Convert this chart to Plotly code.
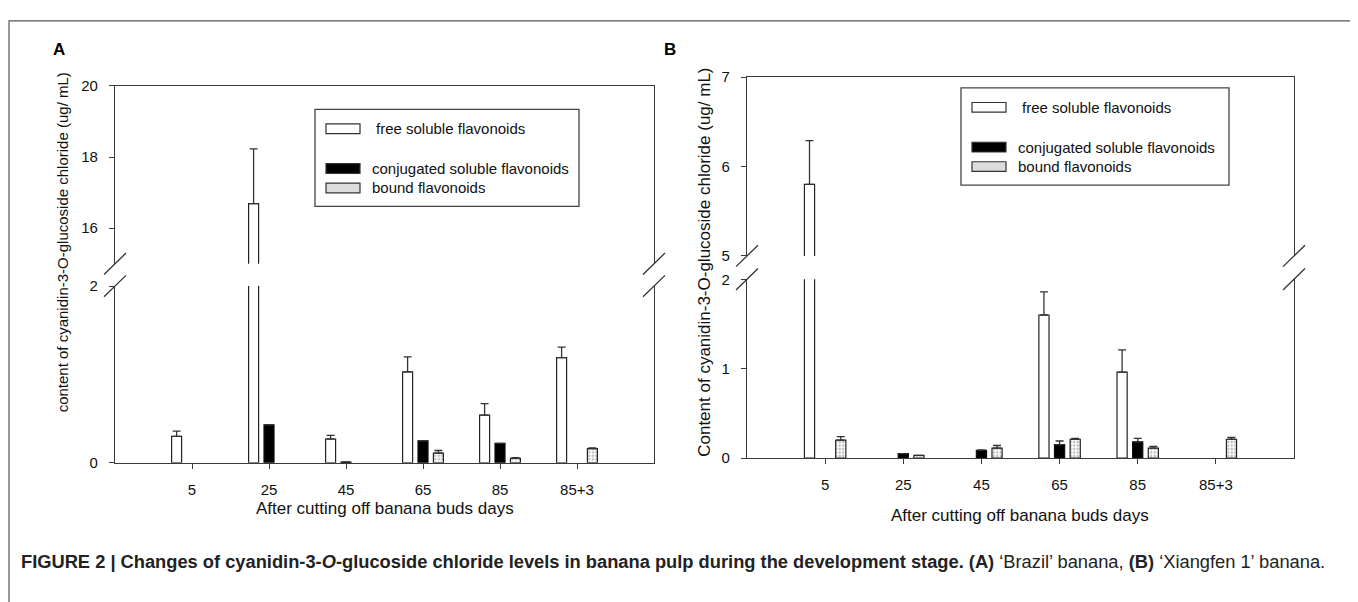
import plotly.graph_objects as go

# ---------------- data ----------------
categories = ["5", "25", "45", "65", "85", "85+3"]
series_names = ["free soluble flavonoids", "conjugated soluble flavonoids", "bound flavonoids"]

# Panel A  ('Brazil' banana)
free_A = [0.30, 16.69, 0.27, 1.03, 0.54, 1.19]
free_A_err = [0.06, 1.54, 0.04, 0.17, 0.13, 0.12]
conj_A = [None, 0.43, 0.01, 0.25, 0.22, None]
conj_A_err = [0, 0.0, 0.0, 0.0, 0.0, 0]
bound_A = [None, None, None, 0.11, 0.05, 0.16]
bound_A_err = [0, 0, 0, 0.03, 0.01, 0.01]

# Panel B  ('Xiangfen 1' banana)
free_B = [5.80, None, None, 1.60, 0.96, None]
free_B_err = [0.49, 0, 0, 0.26, 0.25, 0]
conj_B = [None, 0.05, 0.085, 0.15, 0.18, None]
conj_B_err = [0, 0.0, 0.005, 0.04, 0.04, 0]
bound_B = [0.20, 0.03, 0.11, 0.21, 0.11, 0.21]
bound_B_err = [0.04, 0.0, 0.03, 0.01, 0.02, 0.02]

yticks_A_low = [0, 2]
yticks_A_up = [16, 18, 20]
yticks_B_low = [0, 1, 2]
yticks_B_up = [5, 6, 7]

# ---------------- layout helpers ----------------
OFF = 8                      # page body margin of the html page
W, H = 1358 - OFF, 602 - OFF
FONT = "Liberation Sans, Arial, sans-serif"
AX = "#3a3a3a"


def px(x):
    return (x - OFF) / W


def py(y):
    return 1 - (y - OFF) / H


fig = go.Figure()

styles = [
    dict(color="white", line=dict(color="#222", width=1.2)),
    dict(color="black", line=dict(color="#111", width=1.2)),
    dict(color="white", line=dict(color="#222", width=1.2),
         pattern=dict(shape=".", fgcolor="#777", bgcolor="white", size=3.5, solidity=0.4)),
]


def add_panel(vals, errs, xa, ya):
    for i, (v, e) in enumerate(zip(vals, errs)):
        fig.add_trace(go.Bar(
            x=categories, y=v, name=series_names[i], offsetgroup=str(i),
            marker=styles[i], xaxis=xa, yaxis=ya, showlegend=False,
            error_y=dict(type="data", array=e, arrayminus=[0] * len(e), symmetric=False,
                         color="#333", thickness=1.3, width=4),
        ))


vals_A = [free_A, conj_A, bound_A]
errs_A = [free_A_err, conj_A_err, bound_A_err]
vals_B = [free_B, conj_B, bound_B]
errs_B = [free_B_err, conj_B_err, bound_B_err]

add_panel(vals_A, errs_A, "x", "y")
add_panel(vals_A, errs_A, "x2", "y2")
add_panel(vals_B, errs_B, "x3", "y3")
add_panel(vals_B, errs_B, "x4", "y4")

tickfont = dict(family=FONT, size=15, color="#111")

common_x = dict(type="category", range=[-1, 6], showgrid=False, zeroline=False,
                linecolor=AX, linewidth=1.3, fixedrange=True)
common_y = dict(showgrid=False, zeroline=False, linecolor=AX, linewidth=1.3,
                showline=True, mirror=True, ticks="outside", ticklen=5, tickwidth=1.2,
                tickcolor=AX, tickfont=tickfont, ticklabelstandoff=8)

A_x = [px(115), px(654)]
B_x = [px(747), px(1294)]

fig.update_layout(
    width=W, height=H, margin=dict(l=0, r=0, t=0, b=0),
    paper_bgcolor="white", plot_bgcolor="white",
    barmode="group", bargap=0.4, bargroupgap=0.35, showlegend=False,
    font=dict(family=FONT, color="#111"),
    xaxis=dict(**common_x, domain=A_x, anchor="y", showline=True, ticks="outside",
               ticklen=5, tickwidth=1.2, tickcolor=AX, tickfont=tickfont, ticklabelstandoff=8),
    yaxis=dict(**common_y, domain=[py(467), py(285)], range=[0, 2], tickvals=yticks_A_low,
               anchor="x"),
    xaxis2=dict(**common_x, domain=A_x, anchor="y2", matches="x", side="top", showline=True,
                showticklabels=False, ticks=""),
    yaxis2=dict(**common_y, domain=[py(262), py(79)], range=[15, 20], tickvals=yticks_A_up,
                anchor="x2"),
    xaxis3=dict(**common_x, domain=B_x, anchor="y3", showline=True, ticks="outside",
                ticklen=5, tickwidth=1.2, tickcolor=AX, tickfont=tickfont, ticklabelstandoff=8),
    yaxis3=dict(**common_y, domain=[py(462), py(278)], range=[0, 2], tickvals=yticks_B_low,
                anchor="x3"),
    xaxis4=dict(**common_x, domain=B_x, anchor="y4", matches="x3", side="top", showline=True,
                showticklabels=False, ticks=""),
    yaxis4=dict(**common_y, domain=[py(254), py(70)], range=[5, 7], tickvals=yticks_B_up,
                anchor="x4"),
)

shapes = []
# outer border
shapes.append(dict(type="rect", xref="paper", yref="paper", x0=px(9), y0=py(640), x1=px(1354),
                   y1=py(12), line=dict(color="#555", width=1.2), fillcolor="rgba(0,0,0,0)"))
# axis break marks
for xb, ys in [(115, (262, 285)), (654, (262, 285)), (747, (254, 278)), (1294, (254, 278))]:
    for yb in ys:
        shapes.append(dict(type="line", xref="paper", yref="paper",
                           x0=px(xb - 11), y0=py(yb + 11), x1=px(xb + 11), y1=py(yb - 11),
                           line=dict(color="#333", width=1.3)))

annotations = []


def ann(x, y, text, size, angle=0, xanchor="center", color="#111"):
    annotations.append(dict(xref="paper", yref="paper", x=px(x), y=py(y), text=text,
                            xanchor=xanchor, yanchor="middle", textangle=angle,
                            showarrow=False, font=dict(family=FONT, size=size, color=color)))


def add_legend(L, T, R, B):
    shapes.append(dict(type="rect", xref="paper", yref="paper", x0=px(L), y0=py(B), x1=px(R),
                       y1=py(T), line=dict(color="#444", width=1.3), fillcolor="white"))
    rows = [T + 20, T + 61, T + 81]
    fills = ["white", "black", "#dcdcdc"]
    tx = [L + 59, L + 55, L + 55]
    for i in range(3):
        yc = rows[i]
        shapes.append(dict(type="rect", xref="paper", yref="paper", x0=px(L + 11),
                           y0=py(yc + 5), x1=px(L + 45), y1=py(yc - 5),
                           line=dict(color="#333", width=1.2), fillcolor=fills[i]))
        ann(tx[i], yc, series_names[i], 15, xanchor="left")


add_legend(315, 103, 579, 203)
add_legend(961, 81, 1229, 181)

# panel letters
ann(59, 41, "<b>A</b>", 17, color="black")
ann(670, 41, "<b>B</b>", 17, color="black")

# axis titles
ann(62, 240, "content of cyanidin-3-O-glucoside chloride (ug/ mL)", 15, angle=-90)
ann(705, 260, "Content of cyanidin-3-O-glucoside chloride (ug/ mL)", 17, angle=-90)
ann(385, 514, "After cutting off banana buds days", 17)
ann(1020, 521, "After cutting off banana buds days", 17)

# caption
ann(19, 569,
    "<b>FIGURE 2 | Changes of cyanidin-3-<i>O</i>-glucoside chloride levels in banana pulp "
    "during the development stage. (A)</b> \u2018Brazil\u2019 banana, <b>(B)</b> "
    "\u2018Xiangfen 1\u2019 banana.",
    18.3, xanchor="left", color="#222")

fig.update_layout(shapes=shapes, annotations=annotations)

fig.write_html("out.html")
